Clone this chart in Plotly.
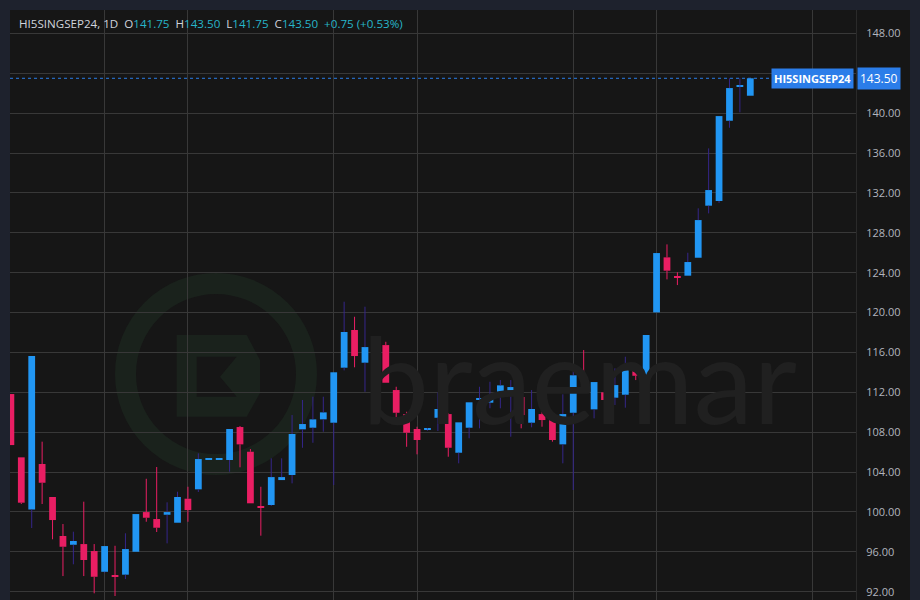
import plotly.graph_objects as go

symbol = "HI5SINGSEP24"
interval = "1D"

# candle index 0..71 (trading days)
opens = [111.83, 105.48, 100.26, 104.81, 101.50, 97.59, 96.71, 96.78, 96.08, 94.00,
         93.55, 93.71, 96.01, 99.99, 99.29, 99.72, 98.92, 101.33, 102.27, 105.28,
         105.28, 105.21, 108.52, 106.04, 100.50, 100.70, 103.20, 103.71, 108.29, 108.45,
         109.29, 108.95, 114.47, 118.25, 114.97, 116.47, 116.74, 112.23, 109.82, 108.32,
         108.25, 109.45, 109.82, 105.94, 108.45, 111.30, 110.96, 111.76, 112.20, 111.53,
         108.95, 109.82, 109.82, 106.78, 109.95, 112.50, 110.29, 112.00, 111.46, 111.76,
         114.54, 113.00, 120.02, 125.54, 123.55, 123.70, 125.50, 130.72, 131.19, 139.24,
         142.70, 141.75]
highs = [111.83, 105.48, 115.65, 107.05, 101.50, 98.79, 98.02, 101.03, 96.78, 96.58,
         96.61, 97.86, 99.79, 103.33, 104.51, 100.97, 102.03, 102.53, 105.88, 105.33,
         105.33, 108.32, 108.62, 106.31, 102.53, 105.38, 105.38, 109.72, 111.23, 111.56,
         111.56, 114.01, 121.09, 119.58, 120.59, 116.91, 117.07, 112.56, 110.05, 108.55,
         108.40, 112.00, 109.90, 108.99, 111.00, 112.56, 113.06, 113.23, 113.23, 111.60,
         112.23, 111.56, 109.82, 111.80, 114.24, 116.24, 113.03, 114.91, 114.41, 115.57,
         114.60, 117.75, 125.97, 126.84, 124.04, 126.00, 130.46, 136.47, 139.71, 143.50,
         143.50, 143.50]
lows = [106.71, 100.80, 98.39, 100.80, 97.26, 93.57, 94.75, 93.57, 91.84, 93.90,
        91.57, 93.27, 96.01, 99.02, 97.99, 96.85, 98.92, 99.02, 102.00, 105.28,
        105.28, 104.04, 104.48, 100.87, 97.62, 100.60, 103.20, 102.87, 106.44, 106.94,
        108.05, 102.70, 114.20, 114.51, 112.06, 116.30, 112.96, 109.05, 106.54, 105.78,
        108.15, 108.12, 105.54, 104.88, 107.39, 108.39, 110.40, 110.40, 107.55, 108.39,
        108.49, 108.55, 107.05, 104.88, 102.20, 112.00, 109.39, 111.06, 110.73, 110.46,
        113.23, 113.00, 120.02, 123.33, 122.76, 123.70, 125.50, 129.95, 131.00, 138.54,
        140.08, 141.75]
closes = [106.71, 100.93, 115.65, 102.93, 99.19, 96.51, 97.09, 95.18, 93.50, 96.58,
          93.50, 96.28, 99.79, 99.42, 98.42, 99.99, 101.50, 100.19, 105.31, 105.33,
          105.33, 108.32, 106.78, 100.87, 100.45, 103.50, 103.50, 107.82, 108.82, 109.29,
          109.99, 114.01, 118.05, 115.64, 116.54, 116.74, 112.96, 109.95, 107.95, 107.22,
          108.30, 110.33, 106.44, 108.99, 111.00, 111.35, 111.53, 112.70, 112.53, 109.72,
          110.33, 109.22, 107.22, 109.82, 113.71, 112.13, 113.03, 111.23, 112.73, 114.74,
          113.66, 117.75, 125.97, 124.20, 123.50, 125.07, 129.28, 132.29, 139.71, 142.52,
          142.75, 143.50]

price_ticks = [92, 96, 100, 104, 108, 112, 116, 120, 124, 128, 132, 136, 140, 144, 148]
hidden_ticks = [144]  # label covered by the last-price badge
time_grid = [9, 17, 31, 39, 54, 62, 77]

UP = "#2196f3"
DOWN = "#e91e63"
UP_WICK = "#35268a"
BG = "#161616"
FRAME = "#1e222d"
GRID = "#383838"
LABEL_BLUE = "#2b7de9"
VAL = "#26b5c9"

idx = list(range(len(opens)))

# plot area in pixels: x 10..856, y 10..600
def pxx(x):
    return (x - 10) / 846.0

def pxy(y):
    return (600 - y) / 590.0

bases, heights, colors = [], [], []
for o, c in zip(opens, closes):
    bases.append(min(o, c))
    heights.append(max(abs(c - o), 0.12))
    colors.append(UP if c >= o else DOWN)

up_wx, up_wy, dn_wx, dn_wy = [], [], [], []
for i, o, h, l, c in zip(idx, opens, highs, lows, closes):
    top, bot = max(o, c), min(o, c)
    wx, wy = (up_wx, up_wy) if c >= o else (dn_wx, dn_wy)
    if h > top:
        wx += [i, i, None]
        wy += [top, h, None]
    if l < bot:
        wx += [i, i, None]
        wy += [l, bot, None]

fig = go.Figure()
fig.add_trace(go.Bar(x=idx, y=heights, base=bases, width=0.65,
                     marker=dict(color=colors, line=dict(width=0)),
                     hoverinfo="skip"))
fig.add_trace(go.Scatter(x=up_wx, y=up_wy, mode="lines",
                         line=dict(color=UP_WICK, width=1), hoverinfo="skip"))
fig.add_trace(go.Scatter(x=dn_wx, y=dn_wy, mode="lines",
                         line=dict(color=DOWN, width=1), hoverinfo="skip"))

shapes = []
# price axis background
shapes.append(dict(type="rect", xref="paper", yref="paper", x0=1, x1=pxx(910), y0=0, y1=1,
                   fillcolor=BG, line=dict(width=0), layer="below"))
# watermark ring
cx, cy, r = 216, 374, 90.5
WM = "#1a221c"
shapes.append(dict(type="circle", xref="paper", yref="paper",
                   x0=pxx(cx - r), x1=pxx(cx + r), y0=pxy(cy + r), y1=pxy(cy - r),
                   line=dict(color=WM, width=21), fillcolor="rgba(0,0,0,0)", layer="below"))
outer = [(176.7, 335), (246.7, 335), (260, 360), (260, 393), (246.7, 416.7), (176.7, 416.7)]
inner = [(196.7, 356.7), (196.7, 396.7), (236.7, 396.7), (220, 376.7), (236.7, 356.7)]
def sub(pts):
    return "M " + " L ".join(f"{pxx(a):.5f},{pxy(b):.5f}" for a, b in pts) + " Z"
path = sub(outer) + " " + sub(inner[::-1])
shapes.append(dict(type="path", xref="paper", yref="paper", path=path,
                   fillcolor=WM, line=dict(width=0), layer="below"))
# last price dotted line
shapes.append(dict(type="line", xref="paper", yref="y", x0=0, x1=1,
                   y0=closes[-1], y1=closes[-1],
                   line=dict(color=LABEL_BLUE, width=1, dash="dot")))

annotations = []
annotations.append(dict(text="braemar", xref="paper", yref="paper",
                        x=pxx(360), y=pxy(378), xanchor="left", yanchor="middle",
                        showarrow=False,
                        font=dict(family="Lato", size=120, weight=400, color="#202020")))

chg = closes[-1] - closes[-2]
pct = chg / closes[-2] * 100
sp = "\u00a0"
W = "#d1d4dc"
legend = (f'<span style="color:{W}">{symbol}, {interval}{sp}{sp}O</span>'
          f'<span style="color:{VAL}">{opens[-1]:.2f}</span>'
          f'<span style="color:{W}">{sp}{sp}H</span><span style="color:{VAL}">{highs[-1]:.2f}</span>'
          f'<span style="color:{W}">{sp}{sp}L</span><span style="color:{VAL}">{lows[-1]:.2f}</span>'
          f'<span style="color:{W}">{sp}{sp}C</span><span style="color:{VAL}">{closes[-1]:.2f}</span>'
          f'<span style="color:{VAL}">{sp}{sp}{chg:+.2f} ({pct:+.2f}%)</span>')
annotations.append(dict(text=legend, xref="paper", yref="paper", x=pxx(17), y=pxy(24),
                        xanchor="left", yanchor="middle", showarrow=False,
                        font=dict(family="Open Sans", size=11.6, color=W)))
annotations.append(dict(text=f"{closes[-1]:.2f}", xref="paper", yref="y", x=1, y=closes[-1],
                        xanchor="left", yanchor="middle", showarrow=False,
                        bgcolor=LABEL_BLUE, borderpad=2, xshift=1,
                        font=dict(family="Open Sans", size=12, color="#ffffff")))
annotations.append(dict(text=f"<b>{symbol}</b>", xref="paper", yref="y", x=1, y=closes[-1],
                        xanchor="right", yanchor="middle", showarrow=False,
                        bgcolor=LABEL_BLUE, borderpad=2, xshift=-2,
                        font=dict(family="Open Sans", size=11, color="#ffffff")))

fig.update_layout(
    width=920, height=600,
    margin=dict(l=10, r=64, t=10, b=0, pad=0, autoexpand=False),
    paper_bgcolor=FRAME, plot_bgcolor=BG,
    showlegend=False, hovermode=False,
    shapes=shapes, annotations=annotations,
    xaxis=dict(range=[-0.085, 81.15], tickvals=time_grid, showticklabels=False,
               showgrid=True, gridcolor=GRID, gridwidth=1, zeroline=False,
               showline=False, ticks="", fixedrange=True, automargin=False),
    yaxis=dict(range=[91.17, 150.35], side="right", tickvals=price_ticks,
               ticktext=["" if v in hidden_ticks else f"{v:.2f}" for v in price_ticks],
               showgrid=True, gridcolor=GRID, gridwidth=1, zeroline=False,
               showline=True, linecolor="#2a2a2a", ticks="", ticklabelstandoff=7,
               tickfont=dict(family="Open Sans", size=11, color="#b2b5be"),
               fixedrange=True, automargin=False),
)

fig.write_html("out.html",
               config={"displayModeBar": False},
               post_script="document.body.style.margin='0';document.body.style.overflow='hidden';"
                           f"document.body.style.background='{FRAME}';")
